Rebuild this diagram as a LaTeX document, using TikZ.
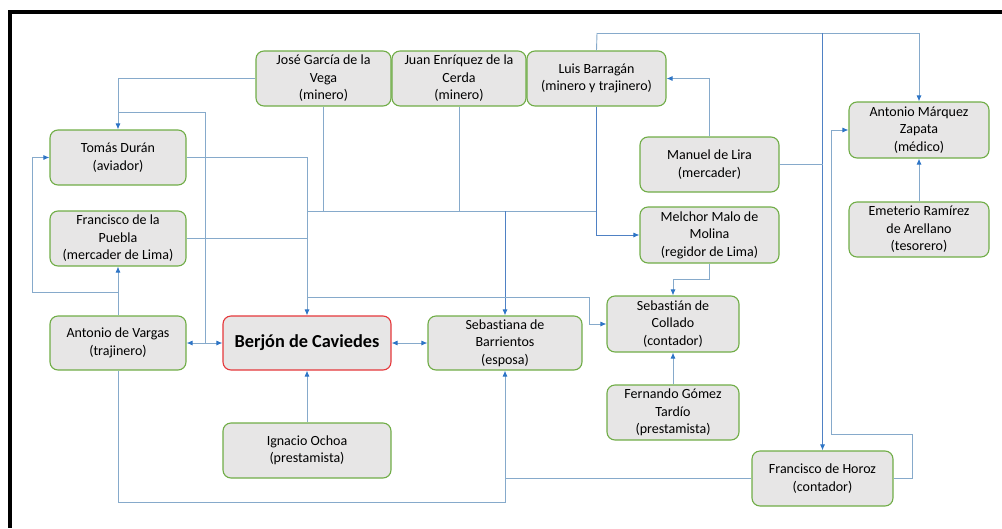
\documentclass[tikz,border=0pt]{standalone}
\usepackage{fontspec}
\setmainfont{Carlito}[Ligatures=NoCommon]
\usetikzlibrary{arrows.meta}
\definecolor{boxgreen}{HTML}{70AD47}
\definecolor{boxgray}{HTML}{E7E6E6}
\definecolor{boxred}{HTML}{E5383B}
\definecolor{linegray}{HTML}{86AACB}
\definecolor{lineblue}{HTML}{4F81C4}
\definecolor{tipblue}{HTML}{2E75C6}
\tikzset{
  box/.style={draw=boxgreen, line width=1.1pt, fill=boxgray, rounded corners=8pt,
    align=center, minimum height=55pt, inner sep=2pt,
    font=\fontsize{14}{17.5}\selectfont},
  mainbox/.style={box, draw=boxred, font=\fontsize{18.3}{21}\selectfont\bfseries},
  conn/.style={draw=linegray, line width=0.9pt},
  connb/.style={draw=lineblue, line width=0.9pt},
  arr/.style={-{Latex[length=6pt,width=5pt,color=tipblue]}},
  darr/.style={{Latex[length=6pt,width=5pt,color=tipblue]}-{Latex[length=6pt,width=5pt,color=tipblue]}},
}
\begin{document}
\begin{tikzpicture}[x=1pt,y=-1pt]
\useasboundingbox (0,0) rectangle (1002,528);
\fill[black] (8,10) rectangle (1002,14);
\fill[black] (8,10) rectangle (12,528);

% nodes
\node[box, minimum width=135pt] (jose) at (323.5,78.5) {José García de la\\Vega\\(minero)};
\node[box, minimum width=134pt] (juan) at (459,78.5) {Juan Enríquez de la\\Cerda\\(minero)};
\node[box, minimum width=139pt] (luis) at (596.5,78.5) {Luis Barragán\\(minero y trajinero)};
\node[box, minimum width=136pt] (tomas) at (118,157.5) {Tomás Durán\\(aviador)};
\node[box, minimum width=136pt] (puebla) at (118,238.5) {Francisco de la\\Puebla\\(mercader de Lima)};
\node[box, minimum width=136pt, minimum height=54pt] (vargas) at (118,343) {Antonio de Vargas\\(trajinero)};
\node[mainbox, minimum width=168pt, minimum height=54pt] (berjon) at (307,343) {Berjón de Caviedes};
\node[box, minimum width=154pt, minimum height=54pt] (sebastiana) at (505,343) {Sebastiana de\\Barrientos\\(esposa)};
\node[box, minimum width=168pt] (ignacio) at (307,450.5) {Ignacio Ochoa\\(prestamista)};
\node[box, minimum width=139pt] (manuel) at (709.5,164.5) {Manuel de Lira\\(mercader)};
\node[box, minimum width=139pt, minimum height=56pt] (melchor) at (709.5,235) {Melchor Malo de\\Molina\\(regidor de Lima)};
\node[box, minimum width=132pt, minimum height=56pt] (collado) at (673,324) {Sebastián de\\Collado\\(contador)};
\node[box, minimum width=132pt] (fernando) at (673,412.5) {Fernando Gómez\\Tardío\\(prestamista)};
\node[box, minimum width=141pt] (horoz) at (822.5,478.5) {Francisco de Horoz\\(contador)};
\node[box, minimum width=140pt, minimum height=56pt] (marquez) at (919,130) {Antonio Márquez\\Zapata\\(médico)};
\node[box, minimum width=140pt] (emeterio) at (919,229.5) {Emeterio Ramírez\\de Arellano\\(tesorero)};

% helper coordinates
\coordinate (j1) at (118,112);
\coordinate (j2) at (205,112);
\coordinate (busL) at (307,211);
\coordinate (busR) at (597,211);
\coordinate (l0) at (118,292);
\coordinate (l1) at (32,292);
\coordinate (bot) at (505,502);
\coordinate (c0) at (307,297);
\coordinate (c1) at (589,297);
\coordinate (m1) at (709.5,279);
\coordinate (t1) at (597,33);
\coordinate (r1) at (912,434);
\coordinate (r2) at (831,434);

% connectors
\draw[conn,arr] (jose.west) -| (tomas.north);
\draw[conn] (j1) -- (j2) -- (j2 |- vargas.east);
\draw[conn,darr] (vargas.east) -- (berjon.west);
\draw[conn,arr] (tomas.east) -| (berjon.north);
\draw[conn] (jose.south) -- (jose.south |- busL);
\draw[conn] (juan.south) -- (juan.south |- busL);
\draw[conn] (busL) -- (busR);
\draw[connb,arr] (luis.south) |- (melchor.west);
\draw[connb,arr] (sebastiana.north |- busL) -- (sebastiana.north);
\draw[conn] (puebla.east) -- (puebla.east -| berjon.north);
\draw[conn,arr] (vargas.north) -- (puebla.south);
\draw[conn,arr] (l0) -- (l1) |- (tomas.west);
\draw[conn,arr] (vargas.south) |- (bot) -- (sebastiana.south);
\draw[conn,arr] (ignacio.north) -- (berjon.south);
\draw[conn,darr] (berjon.east) -- (sebastiana.west);
\draw[conn,arr] (c0) -- (c1) |- (collado.west);
\draw[conn,arr] (melchor.south) -- (m1) -| (collado.north);
\draw[conn,arr] (fernando.north) -- (collado.south);
\draw[conn,arr] (manuel.north) |- (luis.east);
\draw[conn] (luis.north) -- (t1);
\draw[conn,arr] (t1) -| (marquez.north);
\draw[connb,arr] (horoz.north |- t1) -- (horoz.north);
\draw[conn] (manuel.east) -- (manuel.east -| horoz.north);
\draw[conn,arr] (horoz.east) -| (r1) -- (r2) |- (marquez.west);
\draw[conn,arr] (emeterio.north) -- (marquez.south);
\draw[conn] (horoz.west) -- (horoz.west -| bot);
\end{tikzpicture}
\end{document}
